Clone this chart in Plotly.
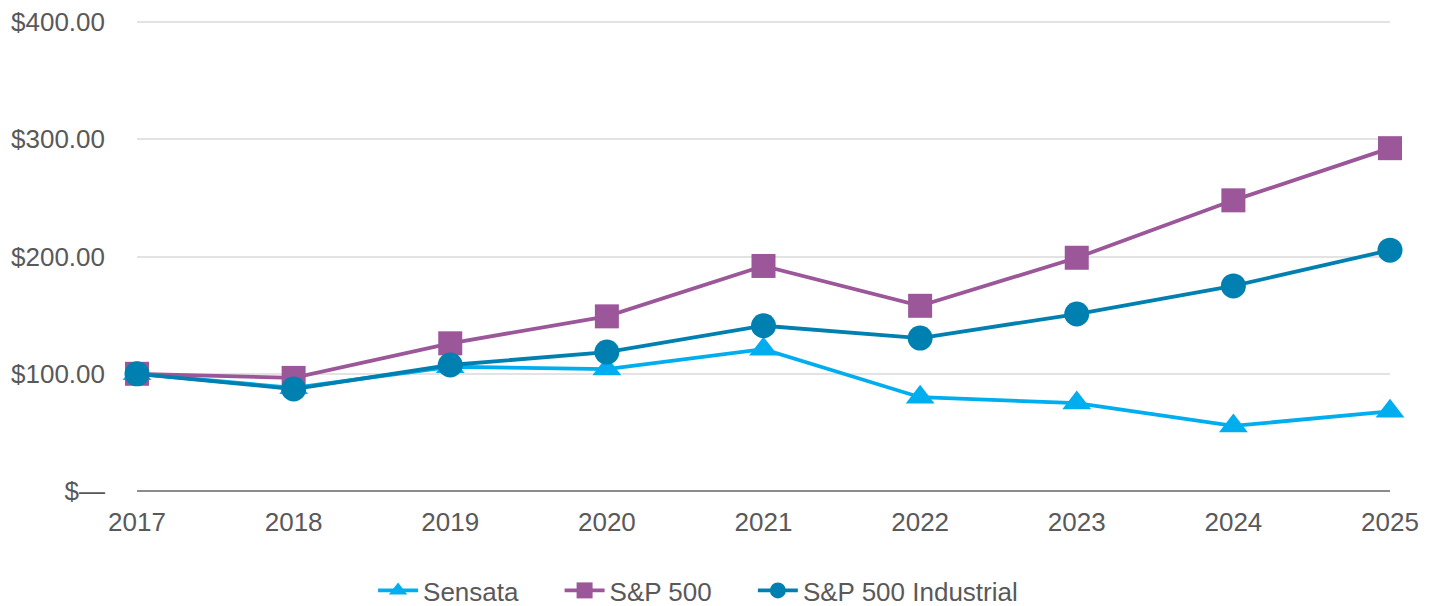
import plotly.graph_objects as go

years = [2017, 2018, 2019, 2020, 2021, 2022, 2023, 2024, 2025]
sensata = [100, 88, 106, 104, 121, 80, 75, 55.5, 68]
sp500 = [100, 96.5, 126, 149, 192, 158, 199, 248, 292.5]
sp500_industrial = [100, 87, 107.5, 118.5, 141, 130.5, 151, 175, 205.5]

y_ticks = [0, 100, 200, 300, 400]
y_tick_text = ["$\u2014", "$100.00", "$200.00", "$300.00", "$400.00"]

pad = "\u00a0" * 5  # extra room between legend entries
series = [
    ("Sensata" + pad, sensata, "#00AEEF", "triangle-up", 25),
    ("S&P 500" + pad, sp500, "#9B5799", "square", 24),
    ("S&P 500 Industrial", sp500_industrial, "#0080B0", "circle", 25),
]

fig = go.Figure()
for name, vals, color, symbol, msize in series:
    fig.add_trace(go.Scatter(
        x=years, y=vals, name=name, mode="lines+markers",
        line=dict(color=color, width=3.8),
        marker=dict(symbol=symbol, size=msize, color=color),
        cliponaxis=False,
    ))

# page body adds 8px offset, margins compensate
fig.update_layout(
    width=1435, height=606,
    paper_bgcolor="white", plot_bgcolor="white",
    font=dict(family="Liberation Sans, Arial, sans-serif", size=26, color="#595959"),
    margin=dict(l=129, r=53, t=13, b=123, autoexpand=False),
    showlegend=True,
    legend=dict(
        orientation="h", xref="container", x=0.2544, xanchor="left",
        yref="container", y=0.0, yanchor="bottom",
        font=dict(size=26, color="#595959"), itemwidth=40,
        tracegroupgap=0,
    ),
    xaxis=dict(
        range=[2017, 2025], tickvals=years, showgrid=False, zeroline=False,
        showline=False, ticks="", ticklabelstandoff=13, automargin=False,
    ),
    yaxis=dict(
        range=[0, 401], tickvals=y_ticks, ticktext=y_tick_text,
        showgrid=True, gridcolor="#E3E3E3", gridwidth=1.5,
        zeroline=True, zerolinecolor="#8C8C8C", zerolinewidth=2,
        ticks="", ticklabelstandoff=31, ticklabeloverflow="allow",
        automargin=False,
    ),
)

fig.write_html("out.html")
